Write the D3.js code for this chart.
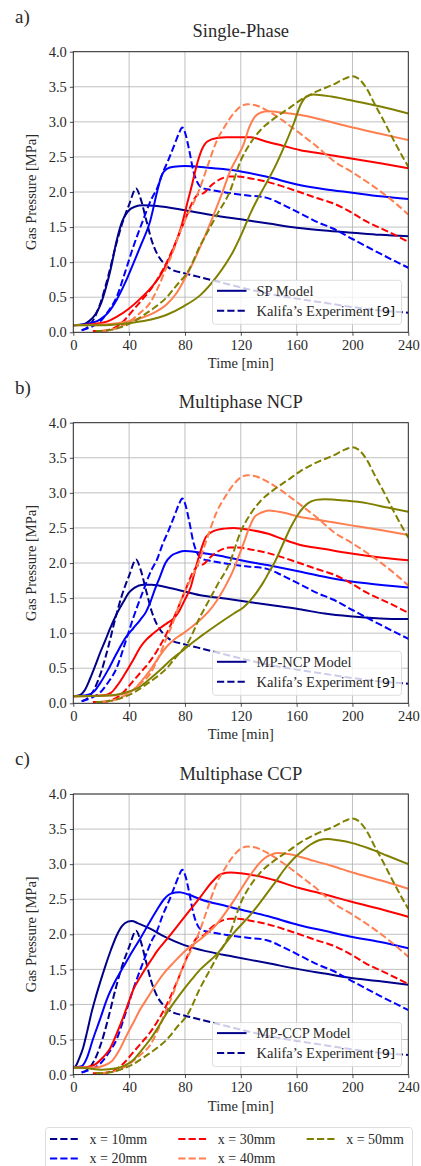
<!DOCTYPE html>
<html><head><meta charset="utf-8">
<script src="https://cdn.jsdelivr.net/npm/d3@7"></script>
<style>body{margin:0;background:#fff}</style></head>
<body><svg id="c" width="421" height="1166"></svg>
<script>
// ---- data ----
const xTicks = [0, 40, 80, 120, 160, 200, 240];
const yTicks = [0, 0.5, 1, 1.5, 2, 2.5, 3, 3.5, 4];
const seriesNames = ["x = 10mm", "x = 20mm", "x = 30mm", "x = 40mm", "x = 50mm"];
const seriesColors = ["#00008b", "#0000ff", "#ff0000", "#ff7f50", "#808000"];
const panelTitles = ["Single-Phase", "Multiphase NCP", "Multiphase CCP"];
const panelLetters = ["a)", "b)", "c)"];
const modelNames = ["SP Model", "MP-NCP Model", "MP-CCP Model"];

// Kalifa's experiment [time(min), pressure(MPa)]
const exp10 = [[6,0.03],[10,0.07],[15,0.2],[20,0.45],[25,0.8],[30,1.2],[35,1.55],[40,1.82],[45,2.05],[48,1.92],[52,1.62],[56,1.32],[60,1.12],[65,0.98],[70,0.9],[80,0.84],[90,0.79],[100,0.74],[120,0.64],[140,0.55],[160,0.48],[180,0.42],[200,0.36],[220,0.31],[240,0.28]];
const exp20 = [[6,0.03],[12,0.07],[19,0.15],[25,0.3],[31,0.5],[37,0.85],[43,1.22],[50,1.6],[56,1.9],[60,2.05],[64,2.27],[68,2.45],[72,2.65],[76,2.85],[78,2.92],[80,2.85],[83,2.6],[86,2.3],[88.5,2.15],[92,2.06],[96,2.04],[110,1.99],[125,1.95],[138,1.92],[150,1.82],[162,1.7],[175,1.57],[186,1.48],[200,1.33],[220,1.12],[240,0.92]];
const exp30 = [[14,0.02],[20,0.02],[31,0.08],[37,0.18],[43,0.32],[50,0.48],[55,0.6],[60,0.75],[67,1.0],[74,1.31],[81,1.65],[86,1.88],[90,1.97],[93,1.98],[98,2.08],[105,2.18],[112,2.22],[118,2.22],[128,2.19],[138,2.15],[150,2.08],[162,2.0],[175,1.91],[186,1.84],[200,1.7],[210,1.58],[225,1.44],[240,1.29]];
const exp40 = [[20,0.02],[30,0.05],[40,0.15],[48,0.28],[55,0.42],[61,0.65],[67,0.94],[72,1.18],[76,1.41],[81,1.64],[86,1.84],[90,2.02],[95,2.3],[103,2.74],[109,2.95],[114,3.1],[120,3.22],[125,3.25],[130,3.24],[138,3.17],[150,3.02],[162,2.84],[175,2.64],[186,2.45],[200,2.28],[210,2.15],[222,1.98],[232,1.82],[240,1.68]];
const exp50 = [[16,0.02],[25,0.03],[35,0.08],[43,0.15],[50,0.24],[58,0.35],[67,0.5],[74,0.67],[82,0.86],[91,1.24],[97,1.46],[103,1.68],[112,2.0],[120,2.45],[127,2.7],[134,2.88],[144,3.05],[155,3.2],[162,3.3],[174,3.43],[186,3.53],[195,3.62],[200,3.65],[204,3.62],[210,3.48],[216,3.25],[222,3.03],[230,2.72],[236,2.5],[240,2.36]];

// Single-phase model
const sp10 = [[0,0.1],[8,0.12],[12,0.17],[16,0.26],[20,0.42],[24,0.68],[27,0.92],[31,1.3],[35,1.58],[39,1.72],[44,1.79],[50,1.81],[60,1.8],[80,1.74],[100,1.67],[120,1.61],[140,1.55],[160,1.49],[180,1.45],[200,1.42],[220,1.39],[240,1.37]];
const sp20 = [[0,0.1],[10,0.12],[19,0.18],[25,0.28],[31,0.46],[37,0.7],[43,0.98],[49,1.27],[55,1.58],[60,2.0],[63,2.22],[67,2.33],[72,2.36],[80,2.37],[95,2.35],[115,2.31],[138,2.22],[162,2.1],[180,2.04],[200,1.99],[220,1.94],[240,1.9]];
const sp30 = [[0,0.1],[15,0.12],[25,0.16],[31,0.22],[40,0.34],[48,0.48],[55,0.62],[62,0.8],[68,1.02],[74,1.31],[78,1.55],[81,1.79],[85,2.1],[88,2.35],[92,2.6],[96,2.72],[103,2.77],[110,2.78],[127,2.78],[138,2.72],[150,2.66],[162,2.6],[180,2.54],[198,2.48],[220,2.41],[240,2.34]];
const sp40 = [[0,0.1],[20,0.11],[35,0.14],[48,0.2],[58,0.28],[67,0.4],[74,0.56],[79,0.73],[85,0.96],[91,1.22],[97,1.5],[103,1.8],[108,2.06],[112,2.28],[117,2.48],[122,2.68],[126,2.92],[130,3.07],[134,3.13],[140,3.15],[150,3.13],[162,3.1],[180,3.02],[198,2.93],[220,2.83],[240,2.74]];
const sp50 = [[0,0.1],[20,0.1],[35,0.12],[43,0.14],[55,0.18],[67,0.25],[79,0.37],[91,0.53],[103,0.8],[115,1.17],[121,1.42],[127,1.7],[132,1.9],[137,2.08],[145,2.38],[152,2.69],[158,2.98],[163,3.25],[167,3.36],[172,3.39],[185,3.36],[198,3.31],[220,3.22],[240,3.12]];

// Multiphase NCP model
const ncp10 = [[0,0.1],[5,0.12],[8,0.18],[12,0.35],[16,0.55],[19,0.71],[23,0.9],[26,1.05],[31,1.27],[36,1.45],[40,1.58],[44,1.65],[50,1.69],[56,1.69],[70,1.64],[91,1.54],[110,1.49],[127,1.44],[145,1.39],[162,1.34],[180,1.28],[198,1.24],[220,1.21],[240,1.2]];
const ncp20 = [[0,0.1],[10,0.12],[15,0.17],[19,0.28],[25,0.48],[31,0.71],[38,0.95],[43,1.07],[48,1.19],[52,1.3],[55,1.43],[58,1.6],[62,1.8],[66,2.0],[70,2.1],[75,2.15],[80,2.17],[90,2.15],[103,2.11],[120,2.04],[139,1.97],[162,1.88],[186,1.78],[210,1.71],[240,1.65]];
const ncp30 = [[0,0.1],[20,0.11],[27,0.15],[31,0.24],[37,0.42],[43,0.62],[48,0.8],[52,0.9],[57,0.99],[62,1.07],[67,1.14],[72,1.21],[76,1.32],[80,1.48],[84,1.65],[88,1.95],[92,2.22],[95,2.37],[100,2.45],[108,2.49],[115,2.5],[127,2.47],[139,2.42],[150,2.34],[162,2.26],[180,2.2],[198,2.14],[220,2.08],[240,2.04]];
const ncp40 = [[0,0.1],[25,0.11],[35,0.13],[43,0.19],[49,0.32],[55,0.47],[61,0.65],[67,0.81],[73,0.92],[79,1.0],[85,1.09],[91,1.19],[97,1.31],[103,1.47],[107,1.6],[110,1.71],[114,1.87],[118,2.07],[122,2.28],[126,2.5],[130,2.66],[135,2.72],[140,2.75],[150,2.72],[162,2.66],[180,2.6],[198,2.54],[220,2.47],[240,2.4]];
const ncp50 = [[0,0.1],[25,0.11],[35,0.14],[48,0.24],[55,0.35],[62,0.47],[70,0.62],[79,0.76],[85,0.86],[91,0.95],[103,1.12],[115,1.28],[122,1.37],[127,1.47],[132,1.6],[136,1.72],[140,1.86],[144,2.0],[150,2.26],[156,2.52],[162,2.72],[168,2.85],[174,2.9],[180,2.91],[195,2.89],[211,2.85],[225,2.79],[240,2.73]];

// Multiphase CCP model
const ccp10 = [[0,0.1],[2,0.13],[4,0.22],[7,0.38],[10,0.62],[13,0.88],[16,1.1],[19,1.3],[23,1.55],[27,1.78],[31,1.98],[35,2.12],[39,2.18],[42,2.19],[46,2.16],[55,2.08],[65,1.97],[79,1.85],[95,1.76],[115,1.68],[139,1.59],[162,1.5],[180,1.44],[198,1.38],[220,1.33],[240,1.28]];
const ccp20 = [[0,0.1],[6,0.12],[10,0.25],[14,0.5],[19,0.78],[24,1.07],[30,1.33],[36,1.54],[43,1.78],[48,1.94],[54,2.15],[60,2.35],[65,2.5],[70,2.58],[76,2.6],[82,2.57],[91,2.5],[110,2.4],[139,2.26],[162,2.13],[180,2.05],[198,1.97],[220,1.89],[240,1.8]];
const ccp30 = [[0,0.1],[10,0.11],[16,0.15],[21,0.24],[26,0.36],[31,0.58],[36,0.83],[40,1.05],[43,1.21],[48,1.39],[52,1.52],[56,1.64],[60,1.76],[67,1.93],[79,2.23],[91,2.53],[100,2.76],[106,2.86],[113,2.88],[120,2.87],[139,2.8],[162,2.66],[180,2.57],[198,2.47],[220,2.36],[240,2.25]];
const ccp40 = [[0,0.1],[15,0.1],[22,0.13],[28,0.2],[33,0.35],[38,0.55],[43,0.74],[48,0.93],[54,1.12],[60,1.31],[66,1.47],[72,1.6],[81,1.78],[91,1.93],[103,2.15],[115,2.48],[127,2.85],[135,3.05],[140,3.12],[146,3.16],[155,3.14],[170,3.06],[186,2.97],[200,2.88],[220,2.77],[240,2.65]];
const ccp50 = [[0,0.1],[10,0.09],[20,0.07],[31,0.09],[37,0.13],[43,0.21],[49,0.35],[55,0.5],[61,0.68],[67,0.88],[73,1.05],[79,1.21],[85,1.36],[91,1.5],[97,1.61],[103,1.72],[109,1.87],[115,2.02],[121,2.15],[127,2.28],[133,2.43],[139,2.59],[145,2.75],[151,2.92],[157,3.06],[163,3.17],[170,3.28],[176,3.34],[182,3.36],[190,3.34],[200,3.3],[211,3.23],[225,3.12],[240,3.0]];

const experiment = [exp10, exp20, exp30, exp40, exp50];
const models = [[sp10, sp20, sp30, sp40, sp50], [ncp10, ncp20, ncp30, ncp40, ncp50], [ccp10, ccp20, ccp30, ccp40, ccp50]];

// ---- layout ----
const svg = d3.select("#c");
const serif = "'Liberation Serif', 'Times New Roman', serif";
const sans = "'DejaVu Sans', sans-serif";
const textColor = "#2a2a2a";
const left = 73.3, right = 408.3, plotH = 280.6;
const panelTops = [51.7, 422.7, 794];
const dash = "7.2,3.1";
const x = d3.scaleLinear().domain([0, 240]).range([left, right]);

panelTops.forEach((top, pi) => {
  const bottom = top + plotH;
  const y = d3.scaleLinear().domain([0, 4]).range([bottom, top]);
  const g = svg.append("g");
  // grid
  g.append("g").selectAll("line").data(xTicks).join("line")
    .attr("x1", d => x(d)).attr("x2", d => x(d)).attr("y1", top).attr("y2", bottom)
    .attr("stroke", "#b0b0b0").attr("stroke-width", 0.8);
  g.append("g").selectAll("line").data(yTicks).join("line")
    .attr("x1", left).attr("x2", right).attr("y1", d => y(d)).attr("y2", d => y(d))
    .attr("stroke", "#b0b0b0").attr("stroke-width", 0.8);

  const line = d3.line().x(d => x(d[0])).y(d => y(d[1])).curve(d3.curveMonotoneX);
  const clipId = "clip" + pi;
  svg.append("clipPath").attr("id", clipId).append("rect")
    .attr("x", left).attr("y", top - 2).attr("width", right - left).attr("height", plotH + 2);
  const lines = g.append("g").attr("clip-path", `url(#${clipId})`);
  models[pi].forEach((m, si) => {
    lines.append("path").attr("d", line(m)).attr("fill", "none")
      .attr("stroke", seriesColors[si]).attr("stroke-width", 2);
    lines.append("path").attr("d", line(experiment[si])).attr("fill", "none")
      .attr("stroke", seriesColors[si]).attr("stroke-width", 2).attr("stroke-dasharray", dash);
  });

  // axes
  const xAxis = d3.axisBottom(x).tickValues(xTicks).tickSize(3.5).tickPadding(3).tickFormat(d3.format("d"));
  const yAxis = d3.axisLeft(y).tickValues(yTicks).tickSize(3.5).tickPadding(3).tickFormat(d3.format(".1f"));
  const gx = g.append("g").attr("transform", `translate(0,${bottom})`).call(xAxis);
  const gy = g.append("g").attr("transform", `translate(${left},0)`).call(yAxis);
  [gx, gy].forEach(a => {
    a.select(".domain").remove();
    a.selectAll("line").attr("stroke", "#222").attr("stroke-width", 0.8);
    a.selectAll("text").attr("font-family", serif).attr("font-size", 14.5).attr("fill", textColor);
  });
  gx.selectAll("text").attr("dy", "0.75em");
  // frame
  g.append("rect").attr("x", left).attr("y", top).attr("width", right - left).attr("height", plotH)
    .attr("fill", "none").attr("stroke", "#222").attr("stroke-width", 0.9);

  // labels
  g.append("text").attr("x", (left + right) / 2).attr("y", bottom + 36).attr("text-anchor", "middle")
    .attr("font-family", serif).attr("font-size", 14.5).attr("fill", textColor).text("Time [min]");
  g.append("text").attr("transform", `translate(36,${(top + bottom) / 2}) rotate(-90)`).attr("text-anchor", "middle")
    .attr("font-family", serif).attr("font-size", 14.5).attr("fill", textColor).text("Gas Pressure [MPa]");
  g.append("text").attr("x", (left + right) / 2).attr("y", top - 14.5).attr("text-anchor", "middle")
    .attr("font-family", serif).attr("font-size", 18.5).attr("fill", textColor).text(panelTitles[pi]);
  g.append("text").attr("x", 15).attr("y", top - 29).attr("font-family", serif).attr("font-size", 19)
    .attr("fill", textColor).text(panelLetters[pi]);

  // inner legend
  const lg = g.append("g");
  lg.append("rect").attr("x", 212.5).attr("y", bottom - 52).attr("width", 189).attr("height", 44).attr("rx", 3)
    .attr("fill", "white").attr("fill-opacity", 0.8).attr("stroke", "#d4d4d4").attr("stroke-width", 0.8);
  const ly1 = bottom - 41.5, ly2 = bottom - 21.5;
  lg.append("line").attr("x1", 217).attr("x2", 246.5).attr("y1", ly1).attr("y2", ly1)
    .attr("stroke", seriesColors[0]).attr("stroke-width", 2);
  lg.append("line").attr("x1", 217).attr("x2", 246.5).attr("y1", ly2).attr("y2", ly2)
    .attr("stroke", seriesColors[0]).attr("stroke-width", 2).attr("stroke-dasharray", dash);
  lg.append("text").attr("x", 256.5).attr("y", ly1 + 5).attr("font-family", serif).attr("font-size", 14.5)
    .attr("fill", textColor).text(modelNames[pi]);
  const t2 = lg.append("text").attr("x", 256.5).attr("y", ly2 + 5).attr("font-family", serif).attr("font-size", 14.5)
    .attr("fill", textColor);
  t2.append("tspan").text("Kalifa’s Experiment");
  t2.append("tspan").attr("dx", 3).attr("font-family", sans).attr("font-size", 13).attr("fill", "#111").text("[9]");
});

// bottom legend
const bl = svg.append("g");
bl.append("rect").attr("x", 45.5).attr("y", 1127.5).attr("width", 367).attr("height", 60).attr("rx", 3)
  .attr("fill", "white").attr("stroke", "#d4d4d4").attr("stroke-width", 0.8);
const colX = [50, 178.3, 306.7];
const rowY = [1139, 1158.5];
seriesNames.forEach((name, i) => {
  const cx = colX[Math.floor(i / 2)], cy = rowY[i % 2];
  bl.append("line").attr("x1", cx).attr("x2", cx + 28.5).attr("y1", cy).attr("y2", cy)
    .attr("stroke", seriesColors[i]).attr("stroke-width", 2).attr("stroke-dasharray", dash);
  bl.append("text").attr("x", cx + 39.5).attr("y", cy + 4.5).attr("font-family", serif).attr("font-size", 14)
    .attr("fill", textColor).text(name);
});
</script></body></html>
